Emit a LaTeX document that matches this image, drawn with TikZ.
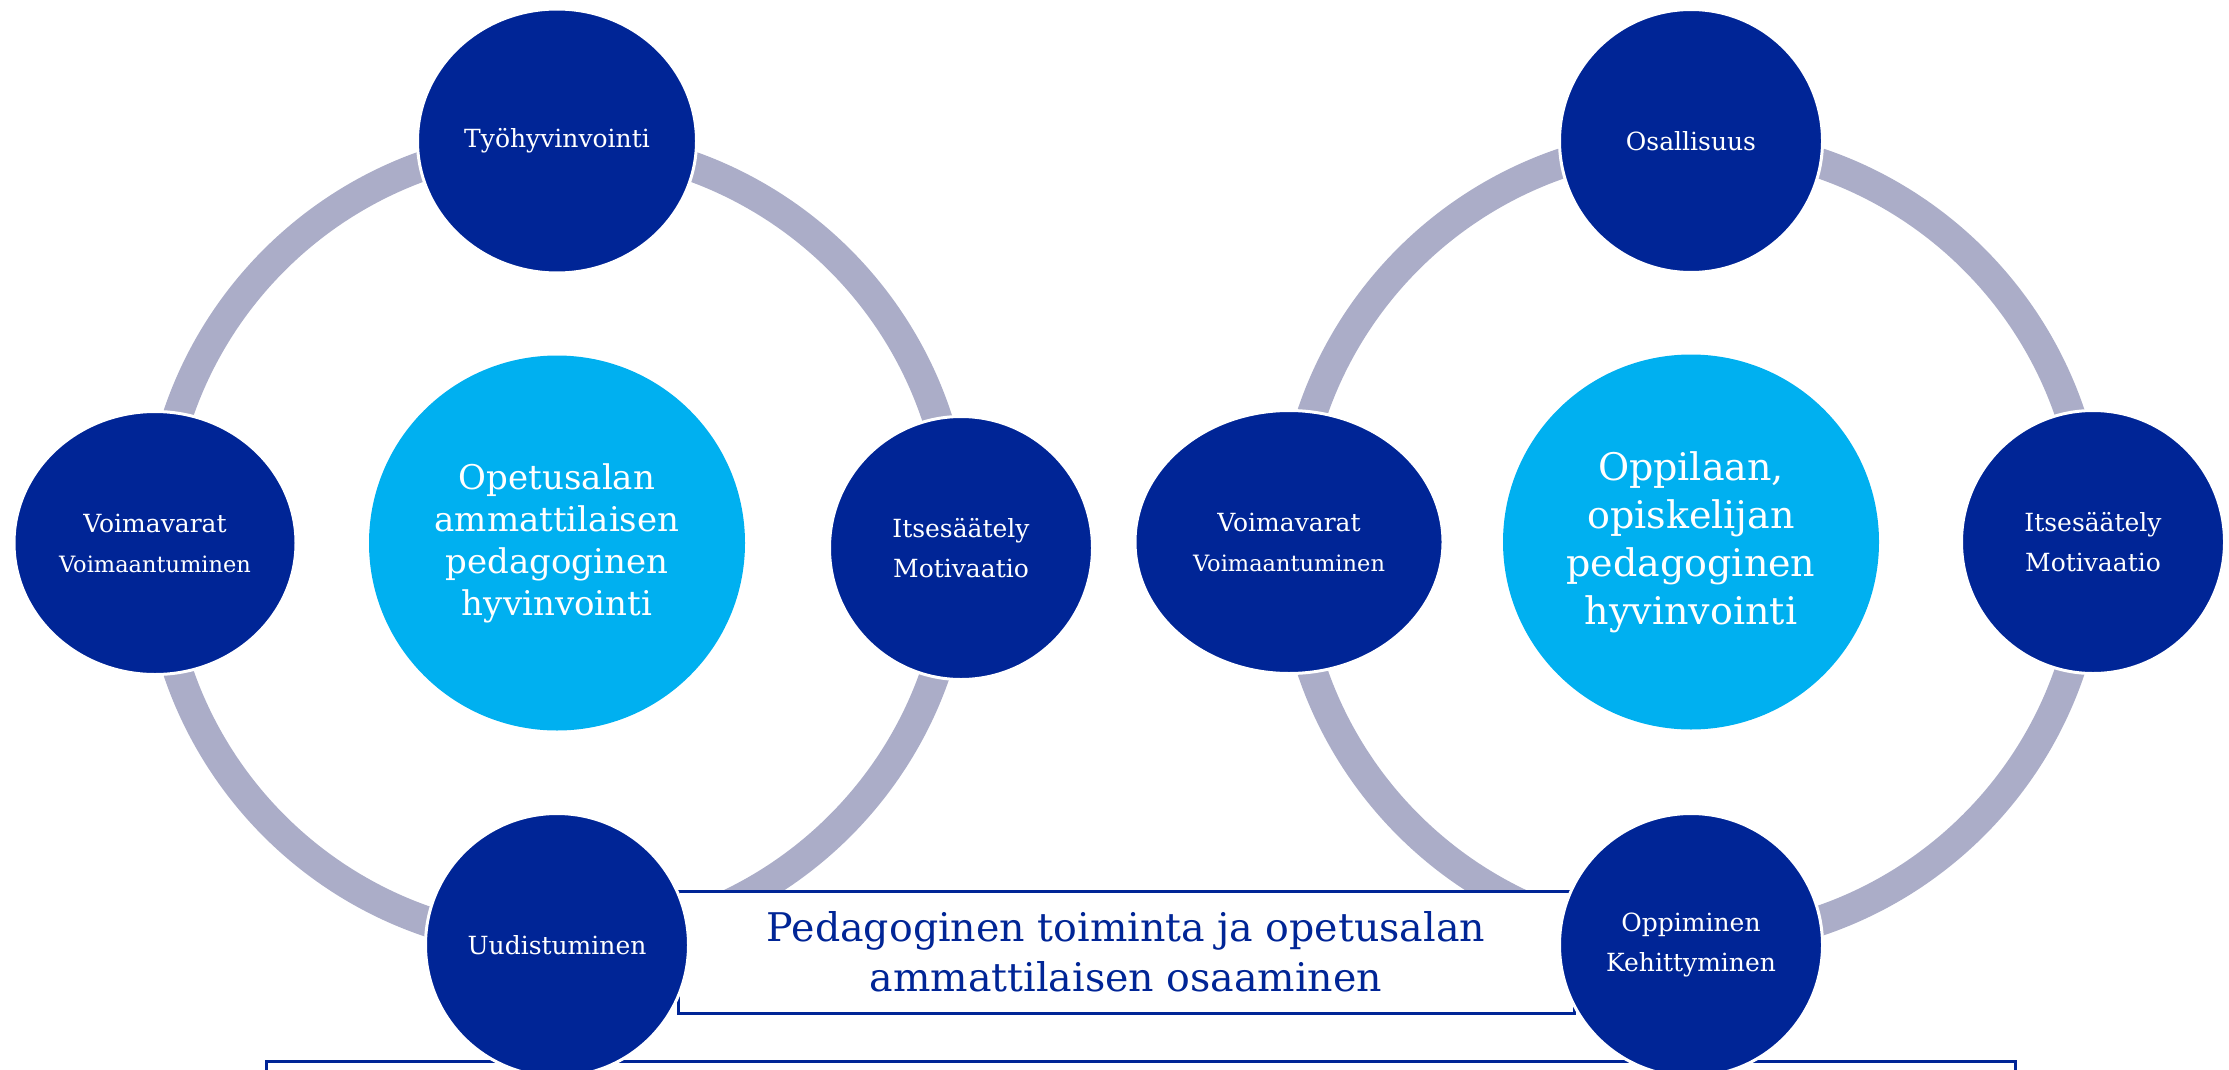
\documentclass[tikz,border=0pt]{standalone}
\usepackage{fontspec}
\setmainfont{DejaVu Serif}
\usepackage{xcolor}
\usetikzlibrary{shapes.geometric}

\definecolor{ringgrey}{RGB}{171,173,200}
\definecolor{darkblue}{RGB}{0,37,150}
\definecolor{lightblue}{RGB}{0,176,240}

\begin{document}
\begin{tikzpicture}[x=1pt,y=1pt,yscale=-1,xscale=1,
  ring/.style={draw=ringgrey, line width=30},
  outernode/.style={shape=ellipse, fill=darkblue, draw=white, line width=3, inner sep=0,
    text=white, align=center, font=\fontsize{25}{40}\selectfont},
  centrenode/.style={shape=ellipse, fill=lightblue, inner sep=0, text=white, align=center,
    minimum width=376, minimum height=375},
  framebox/.style={draw=darkblue, line width=3, fill=white, inner sep=0}]
\useasboundingbox (0,0) rectangle (2229,1070);
\clip (0,0) rectangle (2229,1070);

%Rings
\draw [ring] (557,543) circle (400);
\draw [ring] (1691,542) circle (400);

%Frames
\node [framebox, minimum width=1749, minimum height=80] (base) at (1140.5,1101) {};
\node [framebox, minimum width=896, minimum height=122, text=darkblue, align=center,
  font=\fontsize{39.5}{50}\selectfont] (toiminta) at (1126,952)
  {Pedagoginen toiminta ja opetusalan\\ammattilaisen osaaminen};

%Left ring: outer nodes
\node [outernode, minimum width=279, minimum height=264] (tyo) at (557,141) {Työhyvinvointi};
\node [outernode, minimum width=282, minimum height=263] (voimaL) at (155,543)
  {Voimavarat\\{\fontsize{22.5}{40}\selectfont Voimaantuminen}};
\node [outernode, minimum width=263, minimum height=263] (itseL) at (961,548)
  {Itsesäätely\\Motivaatio};
\node [outernode, minimum width=263, minimum height=263] (uudis) at (557,945) {Uudistuminen};

%Right ring: outer nodes
\node [outernode, minimum width=263, minimum height=263] (osallisuus) at (1691,141) {Osallisuus};
\node [outernode, minimum width=308, minimum height=263] (voimaR) at (1289,542)
  {Voimavarat\\{\fontsize{22.5}{40}\selectfont Voimaantuminen}};
\node [outernode, minimum width=263, minimum height=263] (itseR) at (2093,542)
  {Itsesäätely\\Motivaatio};
\node [outernode, minimum width=263, minimum height=263] (oppiminen) at (1691,945)
  {Oppiminen\\Kehittyminen};

% Centre nodes
\node [centrenode, font=\fontsize{34}{42}\selectfont] (opettaja) at (557,543)
  {Opetusalan\\ammattilaisen\\pedagoginen\\hyvinvointi};
\node [centrenode, font=\fontsize{38}{48}\selectfont] (oppilas) at (1691,542)
  {Oppilaan,\\opiskelijan\\pedagoginen\\hyvinvointi};

\end{tikzpicture}
\end{document}
